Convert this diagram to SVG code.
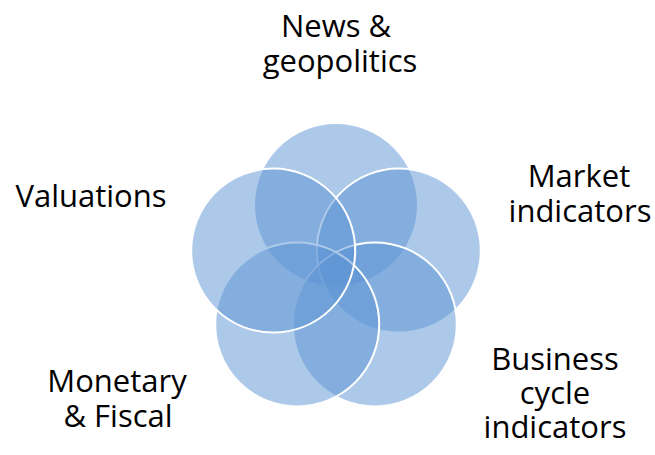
<svg xmlns="http://www.w3.org/2000/svg" width="655" height="455" viewBox="0 0 655 455">
  <style>
    .petal { fill: #5b93d3; fill-opacity: 0.5; stroke: #ffffff; stroke-width: 2; }
    .label { font-family: "Open Sans", "Liberation Sans", sans-serif; font-size: 31px; fill: #000000; text-anchor: middle; }
  </style>
  <rect width="655" height="455" fill="#ffffff"/>
  <!-- five overlapping circles arranged on a pentagon -->
  <g id="node-news"><circle class="petal" cx="336" cy="205" r="82"/></g>
  <g id="node-market"><circle class="petal" cx="398.8" cy="250.6" r="82"/></g>
  <g id="node-business"><circle class="petal" cx="374.8" cy="324.4" r="82"/></g>
  <g id="node-monetary"><circle class="petal" cx="297.2" cy="324.4" r="82"/></g>
  <g id="node-valuations"><circle class="petal" cx="273.2" cy="250.6" r="82"/></g>
  <g id="connectors"></g>
  <!-- labels -->
  <g id="label-news">
    <text class="label" x="336" y="37">News &amp;</text>
    <text class="label" x="340" y="72">geopolitics</text>
  </g>
  <g id="label-market">
    <text class="label" x="579" y="187">Market</text>
    <text class="label" x="580" y="222">indicators</text>
  </g>
  <g id="label-business">
    <text class="label" x="555" y="370">Business</text>
    <text class="label" x="555" y="404">cycle</text>
    <text class="label" x="555" y="438">indicators</text>
  </g>
  <g id="label-monetary">
    <text class="label" x="117" y="392">Monetary</text>
    <text class="label" x="118" y="427">&amp; Fiscal</text>
  </g>
  <g id="label-valuations">
    <text class="label" x="91" y="207">Valuations</text>
  </g>
</svg>
